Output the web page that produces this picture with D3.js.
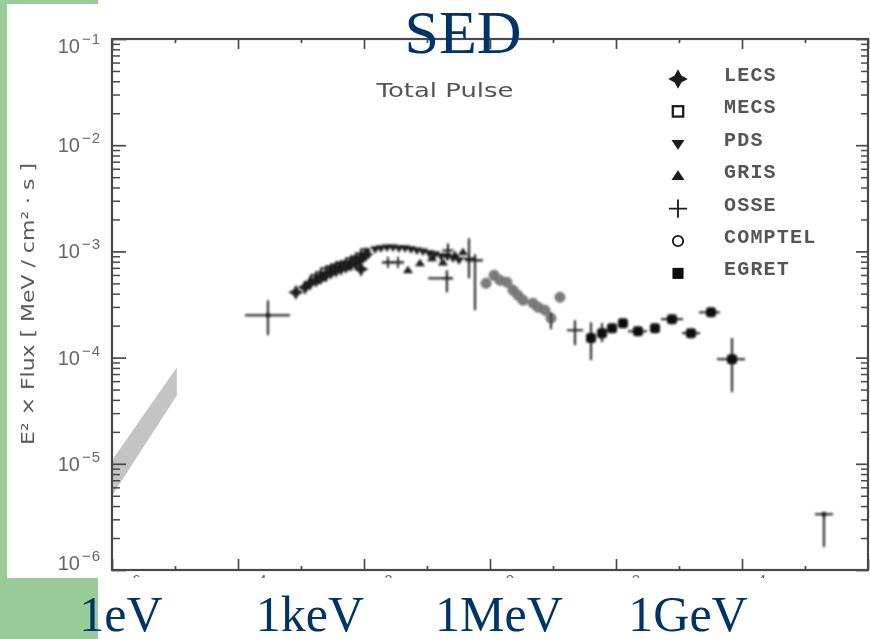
<!DOCTYPE html>
<html>
<head>
<meta charset="utf-8">
<script src="https://cdn.jsdelivr.net/npm/d3@7"></script>
<style>
  body { margin: 0; background: #fff; }
  svg { display: block; }
</style>
</head>
<body>
<svg id="chart" width="870" height="639"></svg>
<script>
// ---- Crab pulsar total-pulse spectrum: energy in MeV, E^2 x flux in MeV/cm^2/s ----

// LECS (4-point stars)
const lecs = [
  [8.3e-4, 4.12e-4], [1.16e-3, 4.59e-4], [1.39e-3, 5.01e-4], [1.73e-3, 5.35e-4],
  [2.08e-3, 5.70e-4], [2.49e-3, 5.96e-4], [2.99e-3, 6.35e-4], [3.60e-3, 6.64e-4],
  [4.32e-3, 6.93e-4], [5.18e-3, 7.24e-4], [6.22e-3, 7.57e-4], [7.47e-3, 7.89e-4],
  [8.96e-3, 8.61e-4], [8.96e-3, 6.80e-4], [1.08e-2, 9.40e-4]
];
// MECS (open squares)
const mecs = [
  [1.67e-3, 5.47e-4], [2.00e-3, 5.83e-4], [2.40e-3, 6.35e-4], [2.89e-3, 6.64e-4],
  [3.47e-3, 6.93e-4], [4.16e-3, 7.24e-4], [4.99e-3, 7.40e-4], [6.00e-3, 7.89e-4],
  [7.19e-3, 8.24e-4], [8.64e-3, 8.79e-4], [1.04e-2, 9.60e-4]
];
// PDS (down triangles)
const pds = [
  [1.50e-2, 1.05e-3], [1.86e-2, 1.07e-3], [2.32e-2, 1.09e-3], [2.88e-2, 1.09e-3],
  [3.59e-2, 1.07e-3], [4.48e-2, 1.07e-3], [5.57e-2, 1.05e-3], [6.93e-2, 1.02e-3],
  [8.64e-2, 1.00e-3], [1.08e-1, 9.60e-4], [1.34e-1, 9.40e-4], [1.67e-1, 9.00e-4],
  [2.07e-1, 9.00e-4], [2.59e-1, 8.61e-4], [3.22e-1, 8.24e-4]
];
// GRIS (up triangles)
const gris = [
  [4.99e-2, 6.64e-4], [7.74e-2, 7.73e-4], [0.120, 8.61e-4],
  [0.179, 7.88e-4], [0.278, 9.19e-4], [0.372, 9.82e-4]
];
// OSSE (plus marks): [E, F, Elo, Ehi, Flo, Fhi]
const osse = [
  [2.40e-2, 7.88e-4, 1.93e-2, 2.99e-2, null, null],
  [3.47e-2, 7.88e-4, 2.78e-2, 4.32e-2, null, null],
  [0.207, 5.58e-4, 0.104, 0.259, 4.12e-4, 6.64e-4],
  [0.215, 1.02e-3, null, null, 8.24e-4, 1.19e-3],
  [0.464, 8.61e-4, null, null, 5.58e-4, 1.33e-3],
  [0.578, 8.24e-4, 0.401, 0.774, 2.79e-4, 9.40e-4]
];
// COMPTEL (circles)
const comptel = [
  [0.865, 5.01e-4], [1.16, 5.96e-4], [1.44, 5.35e-4], [1.86, 5.12e-4],
  [2.32, 4.31e-4], [2.78, 3.86e-4], [3.34, 3.47e-4], [4.82, 3.25e-4],
  [5.78, 2.98e-4], [7.46, 2.79e-4], [9.29, 2.35e-4], [12.9, 3.70e-4]
];
const comptelErr = [
  [9.29, 2.35e-4, null, null, 1.85e-4, 2.67e-4],
  [22.3, 1.81e-4, 16.7, 29.9, 1.31e-4, 2.25e-4]
];
// EGRET (filled squares)
const egret = [
  [40.1, 1.53e-4], [60.0, 1.70e-4], [86.5, 1.89e-4], [129, 2.11e-4],
  [223, 1.77e-4], [416, 1.89e-4], [774, 2.30e-4], [1549, 1.70e-4],
  [3222, 2.67e-4], [6934, 9.66e-5]
];
const egretErr = [
  [40.1, 1.53e-4, null, null, 9.47e-5, 2.15e-4],
  [60.0, 1.70e-4, null, null, 1.40e-4, 2.11e-4],
  [223, 1.77e-4, 155, 310, null, null],
  [774, 2.30e-4, 518, 1156, null, null],
  [1549, 1.70e-4, 1117, 2154, null, null],
  [3222, 2.67e-4, 2075, 4477, null, null],
  [6934, 9.66e-5, 4009, 11170, 4.73e-5, 1.53e-4]
];
// other measurements shown as bare error crosses
const extraErr = [
  [2.99e-4, 2.51e-4, 1.29e-4, 6.68e-4, 1.63e-4, 3.47e-4],
  [2.0e5, 3.35e-6, 1.44e5, 2.78e5, 1.65e-6, 3.5e-6]
];
// optical band
const opticalE  = [1.0e-6, 1.07e-5];
const opticalLo = [5.0e-6, 4.4e-5];
const opticalHi = [1.08e-5, 8.1e-5];

// axis ticks
const yMajor = [1e-6, 1e-5, 1e-4, 1e-3, 1e-2, 1e-1];
const yMinor = d3.range(-6, -1).flatMap(e => d3.range(2, 10).map(m => m * Math.pow(10, e)));
const xMajor = [1e-6, 1e-4, 1e-2, 1, 1e2, 1e4, 1e6];
const xMinor = [1e-5, 1e-3, 1e-1, 10, 1e3, 1e5];
// x tick labels that fall inside the figure width
const xLabelled = [1e-6, 1e-4, 1e-2, 1, 1e2, 1e4];

const legendNames = ["LECS", "MECS", "PDS", "GRIS", "OSSE", "COMPTEL", "EGRET"];
const legendKinds = ["star", "square", "down", "up", "plus", "circle", "filled"];

const energyLabels = ["1eV", "1keV", "1MeV", "1GeV"];
const energyValues = [1e-6, 1e-3, 1, 1e3];

// ---- scales ----
const x = d3.scaleLog().domain([1e-6, 1e6]).range([112, 868]);
const y = d3.scaleLog().domain([1e-6, 1e-1]).range([570, 39]);

const svg = d3.select("#chart");
svg.append("rect").attr("width", 870).attr("height", 639).attr("fill", "#fff");

const defs = svg.append("defs");
defs.append("filter").attr("id", "soft").attr("x", "-5%").attr("y", "-5%").attr("width", "110%").attr("height", "110%")
  .append("feGaussianBlur").attr("stdDeviation", 0.7);
defs.append("filter").attr("id", "softer").attr("x", "-5%").attr("y", "-5%").attr("width", "110%").attr("height", "110%")
  .append("feGaussianBlur").attr("stdDeviation", 1.0);
defs.append("clipPath").attr("id", "figclip").append("rect")
  .attr("x", 7).attr("y", 4).attr("width", 863).attr("height", 574);

const fig = svg.append("g").attr("clip-path", "url(#figclip)");
const plot = fig.append("g").attr("filter", "url(#soft)");

const ink = "#1a1a1a";
const axisInk = "#4a4a4a";

// optical band
const bandData = opticalE.map((e, i) => ({ e, lo: opticalLo[i], hi: opticalHi[i] }));
plot.append("path")
  .datum(bandData)
  .attr("d", d3.area().x(d => x(d.e)).y0(d => y(d.lo)).y1(d => y(d.hi)))
  .attr("fill", "#c4c4c4");

// ---- axes (ticks inward) ----
function ticks(gen, tx, ty, w) {
  const g = plot.append("g").attr("transform", `translate(${tx},${ty})`).call(gen);
  g.select(".domain").remove();
  g.selectAll("text").remove();
  g.selectAll("line").attr("stroke", axisInk).attr("stroke-width", w);
}
ticks(d3.axisLeft(y).tickValues(yMajor).tickSize(-14).tickSizeOuter(0), 112, 0, 1.7);
ticks(d3.axisLeft(y).tickValues(yMinor).tickSize(-8).tickSizeOuter(0), 112, 0, 1.5);
ticks(d3.axisRight(y).tickValues(yMajor).tickSize(-12).tickSizeOuter(0), 868, 0, 1.7);
ticks(d3.axisRight(y).tickValues(yMinor).tickSize(-7).tickSizeOuter(0), 868, 0, 1.5);
ticks(d3.axisBottom(x).tickValues(xMajor).tickSize(-11).tickSizeOuter(0), 0, 570, 1.7);
ticks(d3.axisBottom(x).tickValues(xMinor).tickSize(-4).tickSizeOuter(0), 0, 570, 1.7);
ticks(d3.axisTop(x).tickValues(xMajor).tickSize(-10).tickSizeOuter(0), 0, 39, 1.7);
ticks(d3.axisTop(x).tickValues(xMinor).tickSize(-4).tickSizeOuter(0), 0, 39, 1.7);

plot.append("rect")
  .attr("x", x(1e-6)).attr("y", y(1e-1))
  .attr("width", x(1e6) - x(1e-6)).attr("height", y(1e-6) - y(1e-1))
  .attr("fill", "none").attr("stroke", axisInk).attr("stroke-width", 2.2);

// tick labels as 10^n
function expText(v) {
  const p = Math.round(Math.log10(v));
  return p < 0 ? "\u2212" + (-p) : String(p);
}
const tickFont = "'Liberation Sans', Arial, sans-serif";
yMajor.forEach(v => {
  const cy = Math.max(46, Math.min(563, y(v)));
  const t = plot.append("text")
    .attr("x", 101).attr("y", cy + 7)
    .attr("text-anchor", "end")
    .attr("font-family", tickFont).attr("font-size", 20).attr("fill", "#666");
  t.append("tspan").text("10");
  t.append("tspan").attr("dy", -9).attr("dx", 2).attr("font-size", 15).attr("letter-spacing", 1).text(expText(v));
});
// bottom labels: only the raised exponents reach above the lower crop edge
xLabelled.forEach(v => {
  plot.append("text")
    .attr("x", x(v) + 20).attr("y", 585)
    .attr("text-anchor", "middle")
    .attr("font-family", tickFont).attr("font-size", 15).attr("fill", "#666")
    .text(expText(v));
});

// y-axis title
plot.append("text")
  .attr("transform", "translate(34,304) rotate(-90)")
  .attr("text-anchor", "middle")
  .attr("font-family", "'DejaVu Sans', sans-serif").attr("font-size", 17)
  .attr("fill", "#5a5a5a")
  .attr("textLength", 282).attr("lengthAdjust", "spacingAndGlyphs")
  .text("E\u00B2 \u00D7 Flux [ MeV / cm\u00B2 \u00B7 s ]");

// panel caption
plot.append("text")
  .attr("x", 445).attr("y", 97).attr("text-anchor", "middle")
  .attr("font-family", "'DejaVu Sans', sans-serif").attr("font-size", 19)
  .attr("fill", "#555").attr("textLength", 137).attr("lengthAdjust", "spacingAndGlyphs")
  .text("Total Pulse");

// ---- markers ----
function starPath(s, w) {
  return `M0,${-s}L${w},${-w}L${s},0L${w},${w}L0,${s}L${-w},${w}L${-s},0L${-w},${-w}Z`;
}
function marker(g, kind, cx, cy, k) {
  const m = g.append("g").attr("transform", `translate(${cx},${cy})`);
  if (kind === "star") {
    m.append("path").attr("d", starPath(7.5 * k, 2.6 * k)).attr("fill", ink);
  } else if (kind === "square") {
    const s = 8 * k;
    m.append("rect").attr("x", -s / 2).attr("y", -s / 2).attr("width", s).attr("height", s)
      .attr("fill", "none").attr("stroke", ink).attr("stroke-width", 2 * Math.sqrt(k));
  } else if (kind === "down" || kind === "up") {
    const s = 5 * k, sg = kind === "up" ? -1 : 1;
    m.append("path").attr("d", `M${-s},${-sg * s * 0.6}L${s},${-sg * s * 0.6}L0,${sg * s * 0.9}Z`).attr("fill", ink);
  } else if (kind === "plus") {
    const s = 7 * k;
    m.append("path").attr("d", `M${-s},0H${s}M0,${-s}V${s}`).attr("stroke", ink).attr("stroke-width", 1.8);
  } else if (kind === "circle") {
    m.append("circle").attr("r", 4 * k).attr("fill", "none").attr("stroke", ink).attr("stroke-width", 1.6 * Math.sqrt(k));
  } else if (kind === "greydot") {
    m.append("circle").attr("r", 5).attr("fill", "#7c7c7c").attr("stroke", "#6a6a6a").attr("stroke-width", 1);
  } else if (kind === "filled") {
    const s = (k > 1.1 ? 8.5 : 10) * k;
    m.append("rect").attr("x", -s / 2).attr("y", -s / 2).attr("width", s).attr("height", s)
      .attr("rx", k > 1.1 ? 0 : 3).attr("fill", "#0a0a0a");
  }
}

const marks = plot.append("g").attr("filter", "url(#softer)");

// error crosses
function errBars(list, withDot) {
  list.forEach(d => {
    const [e, f, elo, ehi, flo, fhi] = d;
    const g = marks.append("g").attr("stroke", "#1a1a1a").attr("stroke-width", 2);
    if (elo !== null) g.append("line").attr("x1", x(elo)).attr("x2", x(ehi)).attr("y1", y(f)).attr("y2", y(f));
    if (flo !== null) g.append("line").attr("x1", x(e)).attr("x2", x(e)).attr("y1", y(flo)).attr("y2", y(fhi));
    if (withDot) marks.append("circle").attr("cx", x(e)).attr("cy", y(f)).attr("r", 2.5).attr("fill", "#1a1a1a");
  });
}

comptel.forEach(d => marker(marks, "greydot", x(d[0]), y(d[1]), 1));
errBars(comptelErr, false);
gris.forEach(d => marker(marks, "up", x(d[0]), y(d[1]), 1));
pds.forEach(d => marker(marks, "down", x(d[0]), y(d[1]), 1));
mecs.forEach(d => marker(marks, "square", x(d[0]), y(d[1]), 1));
lecs.forEach(d => marker(marks, "star", x(d[0]), y(d[1]), 1));
errBars(osse, false);
osse.forEach(d => marker(marks, "plus", x(d[0]), y(d[1]), 0.8));
errBars(egretErr, false);
egret.forEach(d => marker(marks, "filled", x(d[0]), y(d[1]), 1));
errBars(extraErr, true);

// ---- legend ----
const legend = plot.append("g");
legendNames.forEach((name, i) => {
  const ry = 79 + i * 32.4;
  marker(legend, legendKinds[i], 678, ry, 1.3);
  legend.append("text")
    .attr("x", 724).attr("y", ry + 2)
    .attr("font-family", "'Liberation Mono', 'Courier New', monospace")
    .attr("font-size", 20).attr("font-weight", "bold").attr("letter-spacing", 1.2)
    .attr("fill", "#555").text(name);
});

// ---- slide frame and annotations ----
const green = "#99cc99";
svg.append("rect").attr("x", 0).attr("y", 0).attr("width", 7).attr("height", 639).attr("fill", green);
svg.append("rect").attr("x", 0).attr("y", 0).attr("width", 98).attr("height", 4).attr("fill", green);
svg.append("rect").attr("x", 0).attr("y", 578).attr("width", 98).attr("height", 61).attr("fill", green);

svg.append("text")
  .attr("x", 463).attr("y", 53).attr("text-anchor", "middle")
  .attr("font-family", "'Liberation Serif', 'Times New Roman', serif")
  .attr("font-size", 62).attr("fill", "#003366").text("SED");

svg.selectAll("text.energy")
  .data(energyLabels)
  .enter().append("text")
  .attr("class", "energy")
  .attr("x", (d, i) => x(energyValues[i]) + 9)
  .attr("y", 631)
  .attr("text-anchor", "middle")
  .attr("font-family", "'Liberation Serif', 'Times New Roman', serif")
  .attr("font-size", 50).attr("fill", "#003366")
  .text(d => d);
</script>
</body>
</html>
